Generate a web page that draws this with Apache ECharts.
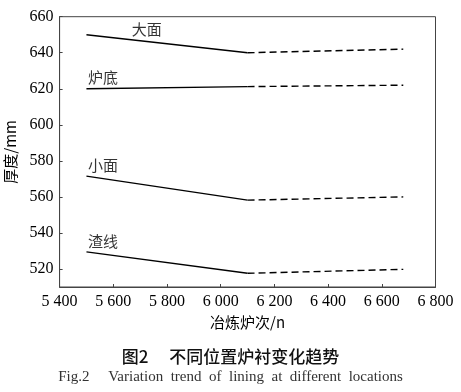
<!DOCTYPE html>
<html><head><meta charset="utf-8">
<script src="https://cdn.jsdelivr.net/npm/echarts@6/dist/echarts.min.js"></script>
<style>html,body{margin:0;padding:0;background:#fff}#c{width:461px;height:392px}</style>
</head><body><div id="c"></div>
<script>
// x positions: start, transition (solid -> dashed), end
const xPoints = [5500, 6100, 6680];
const seriesNames = ['大面', '炉底', '小面', '渣线'];
const damian = [650, 640, 642];
const ludi = [620, 621.2, 622];
const xiaomian = [571.5, 558.2, 560];
const zhaxian = [529.5, 517.6, 519.8];
const labelX = [5725, 5562, 5562, 5562];
const labelY = [653.2, 626.5, 577.4, 535.2];
const yTicks = [520, 540, 560, 580, 600, 620, 640, 660];
const xTicks = [5400, 5600, 5800, 6000, 6200, 6400, 6600, 6800];

const allVals = [damian, ludi, xiaomian, zhaxian];
const serif = '"Liberation Serif","Noto Sans CJK SC",serif';
const cjk = '"Noto Sans CJK SC",sans-serif';

const series = [];
allVals.forEach((vals, i) => {
  series.push({
    type: 'line', symbol: 'none', silent: true,
    data: [[xPoints[0], vals[0]], [xPoints[1], vals[1]]],
    lineStyle: { color: '#000', width: 1.4, type: 'solid' }
  });
  series.push({
    type: 'line', symbol: 'none', silent: true,
    data: [[xPoints[1], vals[1]], [xPoints[2], vals[2]]],
    lineStyle: { color: '#000', width: 1.4, type: [7, 4] }
  });
});
series.push({
  type: 'scatter', symbolSize: 0, silent: true,
  data: seriesNames.map((n, i) => [labelX[i], labelY[i], n]),
  label: { show: true, position: 'inside', formatter: p => p.data[2],
    fontFamily: cjk, fontSize: 15, color: '#000' }
});

function fmt(v) {
  const th = Math.floor(v / 1000), r = v % 1000;
  return th + ' ' + String(r).padStart(3, '0');
}

const chart = echarts.init(document.getElementById('c'), null, { renderer: 'canvas' });
chart.setOption({
  animation: false,
  backgroundColor: '#fff',
  title: [
    { text: '图2　 不同位置炉衬变化趋势', left: 'center', top: 343,
      textStyle: { fontFamily: cjk, fontSize: 17, fontWeight: 500, color: '#111' } },
    { text: 'Fig.2     Variation  trend  of  lining  at  different  locations', left: 'center', top: 365,
      textStyle: { fontFamily: serif, fontSize: 15, fontWeight: 'normal', color: '#333' } }
  ],
  grid: { left: 59.6, right: 25.5, top: 16.7, bottom: 105, show: true,
    borderColor: '#444', borderWidth: 1, containLabel: false, outerBoundsMode: 'none' },
  xAxis: {
    type: 'value', min: 5400, max: 6800, interval: 200,
    name: '冶炼炉次/n', nameLocation: 'middle', nameGap: 28,
    nameTextStyle: { fontFamily: cjk, fontSize: 15, color: '#000' },
    axisLine: { show: true, lineStyle: { color: '#444', width: 1 } },
    axisTick: { show: true, inside: true, length: 3, lineStyle: { color: '#444' } },
    axisLabel: { formatter: fmt, fontFamily: serif, fontSize: 16, color: '#000', margin: 7,
      customValues: xTicks },
    splitLine: { show: false }
  },
  yAxis: {
    type: 'value', min: 510, max: 660,
    name: '厚度/mm', nameLocation: 'middle', nameGap: 42,
    nameTextStyle: { fontFamily: cjk, fontSize: 15, color: '#000' },
    axisLine: { show: true, lineStyle: { color: '#444', width: 1 } },
    axisTick: { show: true, inside: true, length: 3, lineStyle: { color: '#444' }, customValues: yTicks },
    axisLabel: { fontFamily: serif, fontSize: 16, color: '#000', margin: 6, customValues: yTicks },
    splitLine: { show: false }
  },
  series: series
});
</script></body></html>
